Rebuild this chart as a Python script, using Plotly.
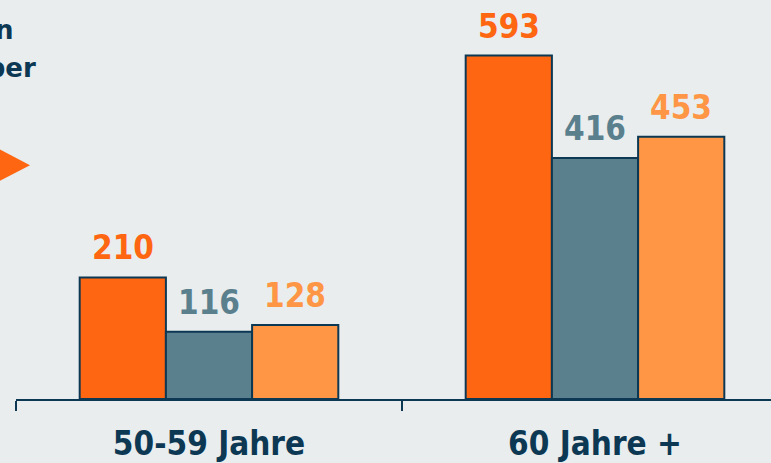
import plotly.graph_objects as go

# data
categories = ["50-59 Jahre", "60 Jahre +"]
series_a = [210, 593]
series_b = [116, 416]
series_c = [128, 453]

colors = ["#ff6611", "#5a7f8d", "#ff9645"]
navy = "#0d3853"
bg = "#e9edee"
font_family = "DejaVu Sans Condensed"

fig = go.Figure()
for vals, col, name in zip([series_a, series_b, series_c], colors, ["A", "B", "C"]):
    fig.add_trace(go.Bar(
        x=categories,
        y=vals,
        name=name,
        marker=dict(color=col, line=dict(color=navy, width=2)),
        showlegend=False,
    ))

# value labels above the bars
n = 3
group_width = 1 - 0.33
for i, (vals, col) in enumerate(zip([series_a, series_b, series_c], colors)):
    for j, v in enumerate(vals):
        offset = -group_width / 2 + group_width / n * (i + 0.5)
        fig.add_annotation(
            x=j + offset, y=v, text="<b>%d</b>" % v,
            showarrow=False, yanchor="bottom", yshift=8,
            font=dict(family=font_family, size=33, color=col),
        )


def px(xp):
    return xp / 771


def py(yp):
    return (401 - yp) / 401


# heading text on the left (cut off by the chart edge)
fig.add_annotation(x=px(15), y=py(30), xref="paper", yref="paper",
                   text="<b>in</b>", showarrow=False, xanchor="right", yanchor="middle",
                   font=dict(family="DejaVu Sans", size=26, color=navy))
fig.add_annotation(x=px(38), y=py(68), xref="paper", yref="paper",
                   text="<b>Oktober</b>", showarrow=False, xanchor="right", yanchor="middle",
                   font=dict(family="DejaVu Sans", size=26, color=navy))

# orange arrow head
fig.add_shape(type="path", xref="paper", yref="paper",
              path="M %f,%f L %f,%f L %f,%f Z" % (px(-10), py(145), px(30), py(166), px(-10), py(187)),
              fillcolor="#ff6611", line=dict(width=0))

fig.update_layout(
    width=771, height=463,
    margin=dict(l=0, r=0, t=0, b=62),
    paper_bgcolor=bg, plot_bgcolor=bg,
    barmode="group", bargap=0.33, bargroupgap=0,
    font=dict(family=font_family, color=navy),
)
fig.update_xaxes(
    type="category", domain=[16 / 771, 1], range=[-0.5, -0.5 + 755 / 386],
    tickson="boundaries", ticks="outside", ticklen=10, tickwidth=2, tickcolor=navy,
    showline=True, linecolor=navy, linewidth=2, showgrid=False,
    tickfont=dict(family=font_family, size=33, color=navy, weight="bold"),
    ticklabelstandoff=14,
)
fig.update_yaxes(range=[0, 689], visible=False)

fig.write_html("out.html", config={"displayModeBar": False},
               post_script="document.body.style.margin='0';")
